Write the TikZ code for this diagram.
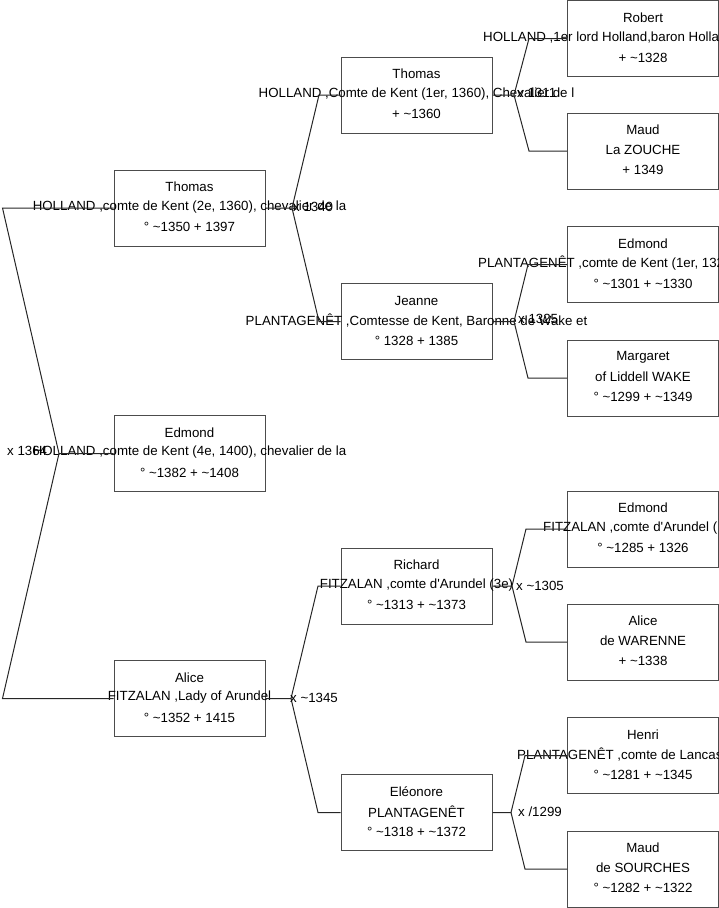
\documentclass[tikz,border=0pt]{standalone}
\usepackage{fontspec}
\setmainfont{Liberation Sans}[Ligatures=TeXOff]
\usetikzlibrary{positioning}

\newcommand{\abt}{\textasciitilde}
% one person: [options of middle line]{name}{x}{y}{line 1}{line 2}{line 3}
\newcommand{\pers}[7][]{%
  \node[pbox] (#2) at (#3,#4) {};
  \node[ptxt] (#2-n) at ([yshift=21pt]#2.center) {#5};
  \node[ptxt,#1] (#2-t) at ([yshift=1pt]#2.center) {#6};
  \node[ptxt] (#2-d) at ([yshift=-19pt]#2.center) {#7};
}

\begin{document}
\begin{tikzpicture}[
    x=1pt, y=-1pt,
    pbox/.style={draw=black!70, line width=1pt, minimum width=151pt, minimum height=76pt, inner sep=0pt},
    ptxt/.style={inner sep=0pt, font=\fontsize{13.3}{15}\selectfont},
    mlabel/.style={inner sep=0pt, anchor=west, font=\fontsize{13.3}{15}\selectfont},
    link/.style={draw=black!85, line width=1pt},
]
\useasboundingbox (0,0) rectangle (719,908);

% generation 1
\pers{th1}{189.5}{208}{Thomas}{HOLLAND ,comte de Kent (2e, 1360), chevalier de la}{° \abt1350 + 1397}
\pers{ed1}{189.5}{453.5}{Edmond}{HOLLAND ,comte de Kent (4e, 1400), chevalier de la}{° \abt1382 + \abt1408}
\pers{al1}{189.5}{698.5}{Alice}{FITZALAN ,Lady of Arundel}{° \abt1352 + 1415}

% generation 2
\pers{th2}{416.5}{95}{Thomas}{HOLLAND ,Comte de Kent (1er, 1360), Chevalier de l}{+ \abt1360}
\pers{je2}{416.5}{321.5}{Jeanne}{PLANTAGENÊT ,Comtesse de Kent, Baronne de Wake et}{° 1328 + 1385}
\pers{ri2}{416.5}{586}{Richard}{FITZALAN ,comte d'Arundel (3e)}{° \abt1313 + \abt1373}
\pers{el2}{416.5}{812.5}{Eléonore}{PLANTAGENÊT}{° \abt1318 + \abt1372}

% generation 3
\pers[anchor=west,xshift=-160pt]{ro3}{643}{38.5}{Robert}{HOLLAND ,1er lord Holland,baron Holla}{+ \abt1328}
\pers{ma3}{643}{151}{Maud}{La ZOUCHE}{+ 1349}
\pers[anchor=west,xshift=-165pt]{ed3}{643}{264.5}{Edmond}{PLANTAGENÊT ,comte de Kent (1er, 132}{° \abt1301 + \abt1330}
\pers{mg3}{643}{378}{Margaret}{of Liddell WAKE}{° \abt1299 + \abt1349}
\pers[anchor=west,xshift=-100pt]{ef3}{643}{529}{Edmond}{FITZALAN ,comte d'Arundel (}{° \abt1285 + 1326}
\pers{aw3}{643}{642}{Alice}{de WARENNE}{+ \abt1338}
\pers[anchor=west,xshift=-126pt]{he3}{643}{755.5}{Henri}{PLANTAGENÊT ,comte de Lancas}{° \abt1281 + \abt1345}
\pers{ms3}{643}{869}{Maud}{de SOURCHES}{° \abt1282 + \abt1322}

% forks
\coordinate (j0) at (59,453.5);
\coordinate (j0u) at (2.5,208);
\coordinate (j0d) at (2.5,698.5);
\draw[link] (ed1.west) -- (j0) -- (j0u) -- (th1.west);
\draw[link] (j0) -- (j0d) -- (al1.west);
\node[mlabel] (m0) at (7,451) {x 1364};

\coordinate (j1) at (292,208);
\coordinate (j1u) at (319,95);
\coordinate (j1d) at (319,321.5);
\draw[link] (th1.east) -- (j1) -- (j1u) -- (th2.west);
\draw[link] (j1) -- (j1d) -- (je2.west);
\node[mlabel] (m1) at (293,207) {x 1340};

\coordinate (j2) at (291,698.5);
\coordinate (j2u) at (318,586);
\coordinate (j2d) at (318,812.5);
\draw[link] (al1.east) -- (j2) -- (j2u) -- (ri2.west);
\draw[link] (j2) -- (j2d) -- (el2.west);
\node[mlabel] (m2) at (290,698) {x \abt1345};

\coordinate (j3) at (514,95);
\coordinate (j3u) at (529,38.5);
\coordinate (j3d) at (529,151);
\draw[link] (th2.east) -- (j3) -- (j3u) -- (ro3.west);
\draw[link] (j3) -- (j3d) -- (ma3.west);
\node[mlabel] (m3) at (517,93) {x 1311};

\coordinate (j4) at (514,321.5);
\coordinate (j4u) at (528,264.5);
\coordinate (j4d) at (528,378);
\draw[link] (je2.east) -- (j4) -- (j4u) -- (ed3.west);
\draw[link] (j4) -- (j4d) -- (mg3.west);
\node[mlabel] (m4) at (518,319) {x 1325};

\coordinate (j5) at (512,586);
\coordinate (j5u) at (526,529);
\coordinate (j5d) at (526,642);
\draw[link] (ri2.east) -- (j5) -- (j5u) -- (ef3.west);
\draw[link] (j5) -- (j5d) -- (aw3.west);
\node[mlabel] (m5) at (516,586) {x \abt1305};

\coordinate (j6) at (511,812.5);
\coordinate (j6u) at (525,755.5);
\coordinate (j6d) at (525,869);
\draw[link] (el2.east) -- (j6) -- (j6u) -- (he3.west);
\draw[link] (j6) -- (j6d) -- (ms3.west);
\node[mlabel] (m6) at (518,812) {x /1299};
\end{tikzpicture}
\end{document}
